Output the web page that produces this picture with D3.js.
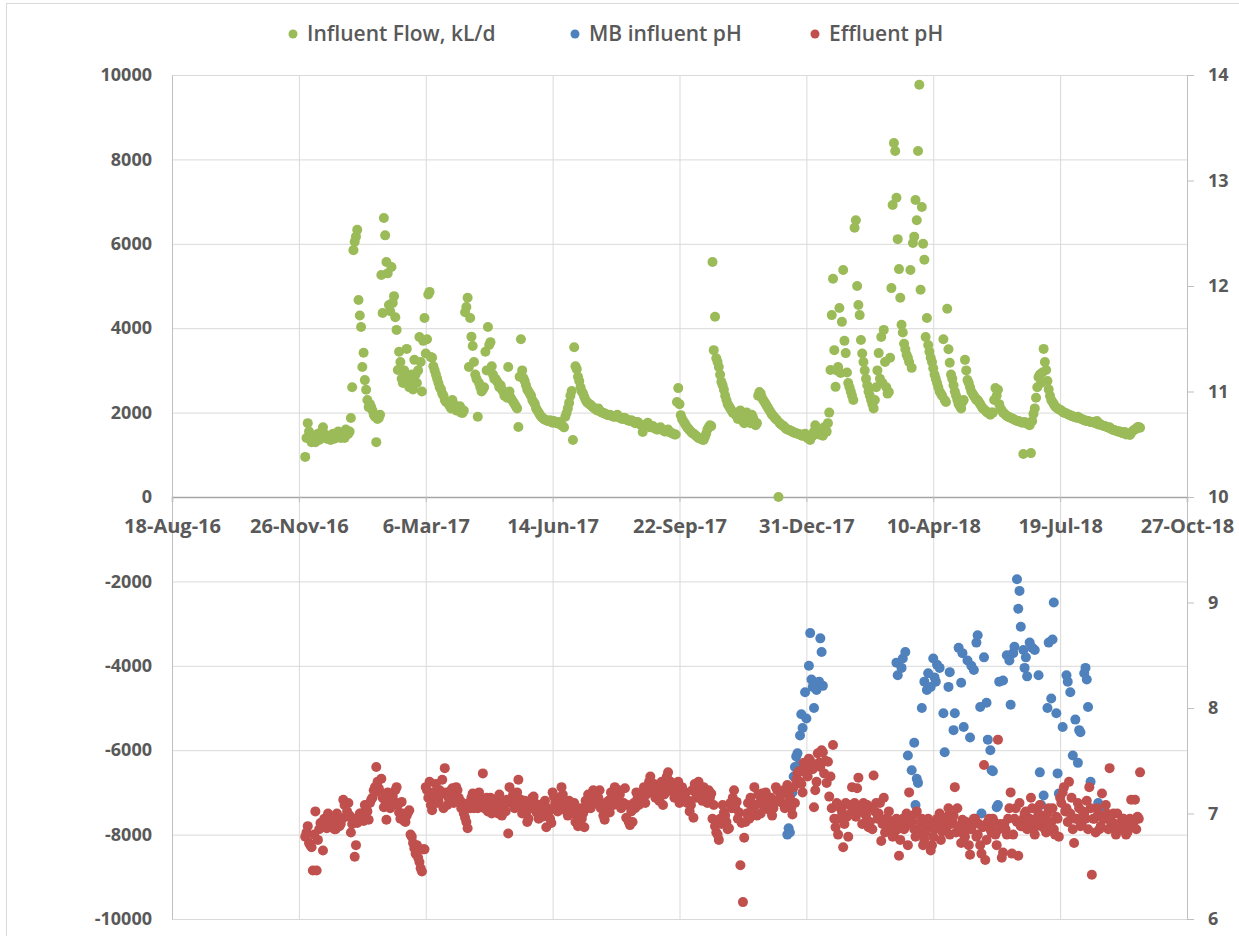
<!DOCTYPE html>
<html>
<head>
<meta charset="utf-8">
<title>Influent flow and pH</title>
<script src="https://cdnjs.cloudflare.com/ajax/libs/d3/7.8.5/d3.min.js"></script>
<style>
	body { margin: 0; background: #fff; }
	text { font-family: "Open Sans", Arial, sans-serif; fill: #595959; }
	.legend text { font-size: 21px; font-weight: 600; }
	.axis text { font-size: 18px; font-weight: 700; }
	.xaxis text { font-size: 20px; font-weight: 700; }
	.grid line { stroke: #d9d9d9; stroke-width: 1; }
	.grid path { display: none; }
</style>
</head>
<body>
<svg id="main" width="1239" height="936"></svg>
<script>

// axis labels
var xTickLabels = ["18-Aug-16", "26-Nov-16", "6-Mar-17", "14-Jun-17", "22-Sep-17", "31-Dec-17", "10-Apr-18", "19-Jul-18", "27-Oct-18"];
var leftTicks = [-10000, -8000, -6000, -4000, -2000, 0, 2000, 4000, 6000, 8000, 10000];
var rightTicks = [6, 7, 8, 9, 10, 11, 12, 13, 14];

var seriesNames = ["Influent Flow, kL/d", "MB influent pH", "Effluent pH"];
var seriesColors = ["#9bbb59", "#4f81bd", "#c0504d"];

// day numbers count from 18-Aug-16.
// daily records are split in two lists: odd days from day 105 (1-Dec-16) and even days from day 106
var oddFirstDay = 105;
var evenFirstDay = 106;
var sampleStep = 2;

var influentFlow = [
	950, 1750, 1450, 1350, 1300, 1500, 1400, 1650, 1450, 1400,
	1350, 1500, 1450, 1550, 1400, 1450, 1600, 1500, 1870, 5850,
	6170, 4670, 4030, 3420, 2540, 2130, 2130, 1950, 1300, 1870,
	5260, 6610, 5570, 4550, 5450, 4760, 3960, 3440, 2800, 3000,
	3510, 2600, 2900, 3250, 2700, 3790, 2500, 4240, 3740, 4860,
	3300, 3000, 2800, 2600, 2450, 2300, 2250, 2150, 2300, 2100,
	2050, 2150, 1990, 4380, 4720, 4240, 3580, 2900, 1900, 2600,
	2550, 3440, 4030, 3670, 2900, 2800, 2700, 2650, 2500, 2450,
	3080, 2350, 2250, 2150, 1660, 3740, 2820, 2650, 2500, 2400,
	2250, 2100, 2000, 1900, 1850, 1820, 1800, 1780, 1800, 1750,
	1780, 1700, 1650, 1990, 2230, 2510, 3550, 3030, 2750, 2500,
	2370, 2250, 2200, 2150, 2100, 2050, 2050, 2000, 1980, 1950,
	1950, 1920, 1900, 1950, 1880, 1850, 1870, 1820, 1800, 1800,
	1750, 1780, 1720, 1540, 1700, 1760, 1650, 1680, 1620, 1600,
	1650, 1580, 1550, 1600, 1530, 1500, 1480, 2580, 1940, 1800,
	1700, 1620, 1550, 1500, 1450, 1400, 1380, 1350, 1500, 1650,
	1680, 3480, 3290, 3080, 2730, 2540, 2300, 2150, 2050, 1990,
	2000, 1900, 1980, 1750, 2000, 1850, 1950, 1800, 1750, 2490,
	2350, 2250, 2150, 2050, 1950, 1880, 1820, 1750, 1700, 1650,
	1600, 1580, 1550, 1520, 1500, 1480, 1450, 1500, 1400, 1350,
	1450, 1700, 1500, 1550, 1450, 1600, 1750, 3010, 5170, 2610,
	3080, 2940, 5380, 3410, 2700, 2500, 2300, 6560, 4550, 3720,
	3200, 2800, 2500, 2300, 2100, 2600, 3410, 3790, 3960, 2600,
	2490, 4950, 8390, 7090, 5400, 4080, 3630, 3370, 3200, 3060,
	6170, 6560, 9770, 6870, 5620, 4240, 3440, 3200, 2900, 2700,
	2500, 2400, 2300, 4460, 3180, 2800, 2500, 2300, 2150, 2250,
	3250, 2770, 2600, 2450, 2350, 2300, 2200, 2100, 2050, 2000,
	1950, 2000, 2580, 2540, 2100, 2000, 1950, 1900, 1880, 1850,
	1820, 1800, 1780, 1020, 1750, 1720, 1040, 1970, 2350, 2840,
	2700, 3510, 3010, 2550, 2300, 2200, 2120, 2080, 2050, 2000,
	1980, 1950, 1920, 1900, 1880, 1870, 1850, 1820, 1800, 1790,
	1780, 1760, 1800, 1740, 1700, 1680, 1660, 1650, 1600, 1580,
	1560, 1550, 1520, 1540, 1500, 1470, 1560, 1600, 1650, 1640
];

var influentFlowEven = [
	1400, 1550, 1300, 1450, 1400, 1350, 1550, 1500, 1380, 1450,
	1420, 1380, 1500, 1450, 1520, 1400, 1480, 1550, 2600, 6050,
	6330, 4300, 3080, 2770, 2300, 2200, 2050, 1900, 1850, 1950,
	4360, 6200, 5300, 4400, 4600, 4260, 3010, 3200, 2700, 2900,
	2750, 2800, 2550, 2900, 3000, 3200, 3700, 3400, 4800, 3320,
	3100, 2900, 2700, 2550, 2400, 2250, 2200, 2100, 2200, 2050,
	2100, 2000, 2050, 4500, 3080, 3800, 3200, 2800, 2700, 2500,
	2600, 3000, 3600, 3100, 2800, 2750, 2600, 2550, 2400, 2350,
	2500, 2300, 2200, 2100, 2850, 3000, 2750, 2550, 2450, 2300,
	2200, 2050, 1950, 1880, 1830, 1800, 1820, 1760, 1780, 1760,
	1720, 1680, 1900, 2100, 2400, 1350, 3100, 2850, 2600, 2450,
	2300, 2220, 2180, 2120, 2080, 2100, 2020, 1990, 1960, 1940,
	1930, 1900, 1920, 1890, 1860, 1880, 1840, 1810, 1820, 1780,
	1770, 1740, 1700, 1680, 1720, 1700, 1660, 1640, 1600, 1630,
	1600, 1560, 1580, 1540, 1510, 1480, 2250, 2200, 1850, 1750,
	1650, 1580, 1520, 1480, 1420, 1390, 1360, 1420, 1600, 1700,
	5570, 4270, 3200, 2900, 2650, 2400, 2200, 2100, 2000, 1950,
	1850, 2050, 1800, 1900, 1950, 1750, 1880, 1700, 2400, 2450,
	2300, 2200, 2100, 2000, 1920, 1850, 0, 1720, 1680, 1620,
	1590, 1560, 1530, 1510, 1490, 1460, 1480, 1420, 1380, 1420,
	1550, 1600, 1480, 1500, 1650, 1550, 2000, 4310, 3480, 3000,
	4480, 4150, 3700, 2950, 2600, 2400, 6380, 5000, 4310, 3400,
	3000, 2650, 2400, 2200, 2300, 3000, 2800, 2700, 3200, 2450,
	3300, 6920, 8200, 6110, 4720, 3900, 3500, 3300, 5380, 6020,
	7040, 8200, 4910, 6000, 3790, 3600, 3300, 3050, 2800, 2600,
	2450, 3740, 2250, 3500, 2900, 2650, 2400, 2200, 2100, 2300,
	3000, 2700, 2500, 2400, 2300, 2250, 2150, 2080, 2020, 1980,
	2000, 2300, 2400, 2200, 2050, 1980, 1920, 1890, 1860, 1830,
	1800, 1790, 1760, 1780, 1740, 1700, 1800, 2100, 2600, 2900,
	2950, 3200, 2750, 2400, 2250, 2150, 2100, 2060, 2020, 1990,
	1960, 1940, 1910, 1890, 1900, 1860, 1830, 1810, 1800, 1780,
	1770, 1750, 1720, 1710, 1690, 1670, 1640, 1620, 1590, 1570,
	1550, 1530, 1510, 1480, 1490, 1520, 1580, 1620, 1660
];

var effluentPH = [
	6.78, 6.88, 6.70, 6.46, 7.02, 6.75, 6.91, 6.65, 6.95, 7.00,
	6.88, 6.92, 6.85, 6.95, 6.90, 7.13, 6.97, 7.10, 6.82, 6.95,
	6.70, 6.95, 7.00, 6.93, 7.05, 6.94, 7.13, 7.22, 7.44, 7.24,
	7.33, 7.06, 6.94, 7.18, 7.10, 7.11, 7.25, 7.01, 7.11, 6.93,
	6.98, 7.03, 6.78, 6.67, 6.70, 6.54, 6.45, 6.66, 7.22, 7.30,
	7.03, 7.15, 7.10, 7.22, 7.32, 7.43, 7.08, 7.15, 7.24, 7.18,
	7.22, 7.12, 7.10, 6.96, 6.86, 7.05, 7.19, 7.10, 7.05, 7.15,
	7.38, 7.10, 7.02, 7.15, 7.08, 7.13, 7.00, 7.10, 7.05, 7.02,
	6.81, 7.10, 7.19, 7.08, 7.32, 7.13, 7.05, 7.00, 6.95, 7.08,
	7.16, 7.02, 6.95, 7.05, 7.10, 6.87, 7.02, 6.91, 7.16, 7.05,
	7.10, 7.25, 7.08, 7.02, 7.12, 7.05, 7.10, 6.98, 6.92, 6.95,
	6.87, 7.05, 7.10, 7.15, 7.20, 7.12, 7.22, 7.10, 6.94, 7.05,
	7.01, 7.15, 7.25, 7.12, 7.18, 7.10, 7.24, 7.08, 6.89, 6.92,
	7.05, 7.15, 7.12, 7.18, 7.10, 7.20, 7.35, 7.22, 7.15, 7.27,
	7.20, 7.08, 7.25, 7.39, 7.30, 7.20, 7.25, 7.30, 7.18, 7.15,
	7.20, 7.12, 7.08, 6.96, 7.15, 7.30, 7.20, 7.25, 7.15, 7.22,
	7.19, 7.08, 6.82, 6.75, 6.90, 7.01, 6.92, 6.86, 7.05, 7.22,
	7.11, 7.01, 6.91, 6.77, 7.00, 6.95, 7.05, 7.25, 6.98, 7.10,
	7.19, 7.05, 7.12, 7.03, 6.98, 7.10, 7.22, 7.15, 7.10, 7.05,
	7.27, 7.15, 6.99, 7.10, 7.38, 7.30, 7.20, 7.44, 7.35, 7.50,
	7.42, 7.22, 7.57, 7.44, 7.58, 7.50, 7.49, 7.35, 7.65, 6.87,
	6.80, 7.05, 6.68, 7.10, 6.78, 7.00, 7.05, 6.97, 7.34, 7.02,
	7.10, 6.98, 6.87, 7.05, 7.36, 7.10, 7.00, 6.74, 7.15, 6.95,
	7.02, 6.88, 6.81, 6.95, 6.60, 6.90, 6.85, 7.00, 7.20, 6.92,
	6.85, 7.02, 6.80, 6.95, 6.75, 6.88, 6.91, 6.70, 6.85, 6.95,
	7.00, 6.83, 6.90, 6.97, 6.80, 6.92, 7.25, 7.05, 6.88, 6.94,
	6.78, 6.85, 6.61, 6.90, 6.95, 6.80, 6.70, 6.87, 6.56, 6.92,
	6.85, 6.95, 6.80, 7.70, 6.90, 6.63, 6.85, 6.95, 7.20, 6.80,
	7.05, 6.60, 6.88, 6.95, 7.02, 6.90, 7.15, 6.85, 6.95, 7.00,
	6.88, 6.95, 6.82, 7.05, 6.92, 6.85, 6.97, 6.78, 7.10, 7.25,
	7.05, 7.30, 7.15, 6.72, 6.95, 7.05, 6.90, 7.00, 7.12, 7.25,
	6.42, 6.95, 7.05, 6.85, 7.19, 6.95, 7.00, 7.43, 6.92, 6.88,
	7.00, 6.85, 6.95, 6.90, 6.82, 6.95, 6.88, 7.13, 6.97, 7.39
];

var effluentPHEven = [
	6.82, 6.72, 6.68, 6.80, 6.46, 6.85, 6.90, 6.95, 6.86, 6.98,
	6.92, 6.85, 7.00, 6.88, 6.95, 7.08, 7.02, 6.98, 6.90, 6.59,
	6.91, 7.00, 6.95, 7.08, 7.02, 7.10, 7.15, 7.25, 7.30, 7.20,
	7.15, 7.12, 7.20, 7.05, 7.16, 7.22, 7.08, 6.95, 7.00, 6.92,
	7.01, 6.80, 6.72, 6.62, 6.58, 6.48, 6.66, 7.25, 7.15, 7.08,
	7.20, 7.28, 7.12, 7.18, 7.05, 7.20, 7.15, 7.22, 7.10, 7.25,
	7.15, 7.05, 7.00, 6.92, 7.10, 7.15, 7.05, 7.12, 7.20, 7.08,
	7.05, 7.15, 7.10, 7.00, 7.12, 7.05, 7.18, 6.98, 7.08, 7.13,
	7.25, 7.15, 7.05, 7.20, 7.10, 7.00, 7.12, 6.92, 7.05, 7.15,
	7.10, 7.00, 7.08, 6.97, 7.12, 7.05, 6.95, 7.20, 7.10, 7.02,
	7.15, 7.18, 7.05, 6.98, 7.10, 7.02, 6.92, 6.88, 7.05, 7.00,
	7.12, 7.18, 7.05, 7.22, 7.10, 7.15, 7.05, 6.98, 7.08, 7.12,
	7.20, 7.08, 7.15, 7.22, 7.05, 7.10, 6.96, 6.92, 7.02, 7.10,
	7.20, 7.08, 7.16, 7.25, 7.18, 7.30, 7.22, 7.28, 7.20, 7.12,
	7.30, 7.18, 7.35, 7.22, 7.28, 7.15, 7.20, 7.10, 7.25, 7.18,
	7.10, 7.02, 7.22, 7.28, 7.18, 7.25, 7.12, 7.20, 7.10, 7.15,
	6.95, 6.88, 6.80, 6.95, 7.08, 6.98, 6.85, 7.10, 7.15, 7.05,
	6.95, 6.51, 6.16, 6.92, 7.10, 7.15, 7.02, 7.08, 7.18, 7.00,
	7.12, 7.20, 7.08, 7.15, 7.05, 7.25, 7.12, 7.18, 7.22, 7.08,
	7.20, 7.05, 7.25, 7.32, 7.40, 7.28, 7.48, 7.38, 7.52, 7.45,
	7.06, 7.30, 7.48, 7.60, 7.38, 7.29, 7.16, 7.05, 6.95, 7.10,
	6.95, 7.02, 6.90, 6.97, 7.08, 7.25, 7.10, 7.24, 7.05, 6.90,
	7.00, 7.08, 6.92, 6.85, 7.02, 6.95, 7.10, 6.90, 6.82, 6.95,
	6.85, 6.78, 6.92, 6.85, 6.75, 6.95, 6.88, 6.70, 6.92, 6.98,
	6.78, 6.85, 6.92, 6.70, 6.82, 6.95, 6.65, 6.78, 6.88, 6.92,
	6.75, 6.95, 6.85, 7.05, 6.90, 6.98, 6.82, 6.88, 6.72, 6.80,
	6.92, 6.70, 6.85, 6.95, 6.78, 6.90, 6.62, 7.46, 6.75, 6.95,
	6.82, 6.92, 6.70, 6.85, 6.58, 6.90, 6.80, 7.05, 6.62, 6.95,
	6.92, 7.10, 6.88, 7.00, 6.85, 6.95, 7.05, 6.80, 6.92, 7.08,
	6.95, 6.85, 7.00, 6.90, 7.05, 6.80, 6.95, 7.15, 7.20, 7.02,
	6.92, 7.00, 6.85, 6.95, 7.10, 6.88, 7.02, 6.95, 6.85, 7.05,
	6.95, 6.82, 7.00, 6.88, 6.95, 7.08, 6.85, 6.92, 7.00, 6.80,
	6.90, 6.85, 6.95, 6.80, 6.88, 7.13, 6.92, 6.85, 6.95
];

// MB influent pH [day, pH]
var mbInfluentPH = [
	[485, 6.80], [486, 6.86], [487, 6.82], [488, 7.19], [489, 7.20], [490, 7.35], [491, 7.44],
	[492, 7.54], [493, 7.57], [494, 7.46], [495, 7.74], [496, 7.94], [497, 7.81], [499, 8.15],
	[500, 7.90], [502, 8.40], [503, 8.71], [504, 8.27], [505, 8.20], [506, 8.00], [507, 8.22],
	[508, 8.17], [510, 8.25], [511, 8.66], [512, 8.53], [513, 8.21],
	[571, 8.43], [572, 8.31], [575, 8.38], [576, 8.47], [578, 8.53], [580, 7.55], [583, 7.41],
	[585, 7.67], [586, 7.08], [587, 7.33], [588, 7.29], [591, 8.00], [593, 8.25], [595, 8.17],
	[596, 8.33], [598, 8.20], [600, 8.47], [601, 8.29], [602, 8.25], [603, 8.41], [605, 8.38],
	[608, 7.95], [609, 7.58], [612, 8.20], [613, 8.34], [616, 7.79], [617, 7.95], [620, 8.57],
	[622, 8.24], [623, 8.52], [624, 7.82], [627, 8.45], [629, 7.72], [630, 8.40], [632, 8.36],
	[634, 8.62], [635, 8.69], [637, 8.01], [638, 7.00], [640, 8.48], [642, 8.05], [643, 7.70],
	[645, 7.60], [646, 7.41], [647, 7.40], [650, 7.06], [651, 7.08], [652, 8.25], [655, 8.26],
	[658, 8.50], [660, 8.45], [661, 8.03], [663, 8.52], [664, 8.58], [666, 9.22], [667, 8.94],
	[668, 9.11], [669, 8.77], [671, 8.55], [672, 8.38], [673, 8.48], [674, 8.30], [676, 8.62],
	[678, 8.57], [680, 8.55], [683, 8.31], [684, 7.39], [685, 7.08], [687, 7.17], [690, 8.00],
	[691, 8.62], [693, 8.09], [694, 8.65], [695, 9.00], [697, 7.95], [698, 7.38], [699, 7.19],
	[702, 7.82], [705, 8.31], [706, 8.25], [708, 8.15], [710, 7.55], [712, 7.89], [714, 7.48],
	[715, 7.79], [716, 7.77], [719, 8.33], [720, 8.38], [721, 8.27], [722, 8.01], [724, 7.30],
	[730, 7.10], [734, 7.06]
];

var svg = d3.select("#main");
var parseLabel = d3.timeParse("%d-%b-%y");
var xTickDates = xTickLabels.map(parseLabel);
var dayZero = xTickDates[0];

function dayDate(d) { return d3.timeDay.offset(dayZero, d); }

// plot area edges
var plotLeft = 172, plotRight = 1187, plotTop = 75, plotBottom = 919;

var x = d3.scaleTime().domain([dayZero, xTickDates[xTickDates.length - 1]]).range([plotLeft, plotRight]);
var yFlow = d3.scaleLinear().domain([leftTicks[0], leftTicks[leftTicks.length - 1]]).range([plotBottom, plotTop]);
var yPH = d3.scaleLinear().domain([rightTicks[0], rightTicks[rightTicks.length - 1]]).range([plotBottom, plotTop]);

// outer chart border
svg.append("rect")
	.attr("x", 6.5).attr("y", 3.5)
	.attr("width", 1260).attr("height", 960)
	.attr("fill", "none").attr("stroke", "#d9d9d9");

// gridlines
svg.append("g").attr("class", "grid")
	.attr("transform", "translate(" + plotLeft + ",0)")
	.call(d3.axisLeft(yFlow).tickValues(leftTicks).tickSize(-(plotRight - plotLeft)).tickFormat(""));

svg.append("g").attr("class", "grid")
	.attr("transform", "translate(0," + plotBottom + ")")
	.call(d3.axisBottom(x).tickValues(xTickDates).tickSize(-(plotBottom - plotTop)).tickFormat(""));

// left axis
var leftAxis = svg.append("g").attr("class", "axis")
	.attr("transform", "translate(" + plotLeft + ",0)")
	.call(d3.axisLeft(yFlow).tickValues(leftTicks).tickSize(0).tickPadding(20).tickFormat(String));
leftAxis.select(".domain").attr("stroke", "#bfbfbf");

// right axis
var rightAxis = svg.append("g").attr("class", "axis")
	.attr("transform", "translate(" + plotRight + ",0)")
	.call(d3.axisRight(yPH).tickValues(rightTicks).tickSize(7).tickPadding(14));
rightAxis.select(".domain").attr("stroke", "#bfbfbf");
rightAxis.selectAll(".tick line").attr("stroke", "#bfbfbf");

// date axis crosses at flow = 0
var xAxis = svg.append("g").attr("class", "xaxis")
	.attr("transform", "translate(0," + yFlow(0) + ")")
	.call(d3.axisBottom(x).tickValues(xTickDates).tickSize(5).tickPadding(17)
		.tickFormat(function(d, i) { return xTickLabels[i]; }));
xAxis.select(".domain").attr("stroke", "#a6a6a6").attr("stroke-width", 1.5);
xAxis.selectAll(".tick line").attr("stroke", "#bfbfbf");

// series
function daily(values, firstDay) {
	return values.map(function(v, i) { return [firstDay + i * sampleStep, v]; });
}

var flowPoints = daily(influentFlow, oddFirstDay).concat(daily(influentFlowEven, evenFirstDay));
var effluentPoints = daily(effluentPH, oddFirstDay).concat(daily(effluentPHEven, evenFirstDay));

function drawPoints(points, yScale, color) {
	svg.append("g").selectAll("circle")
		.data(points)
		.enter().append("circle")
		.attr("cx", function(d) { return x(dayDate(d[0])); })
		.attr("cy", function(d) { return yScale(d[1]); })
		.attr("r", 5)
		.attr("fill", color);
}

drawPoints(flowPoints, yFlow, seriesColors[0]);
drawPoints(mbInfluentPH, yPH, seriesColors[1]);
drawPoints(effluentPoints, yPH, seriesColors[2]);

// legend
var legendX = [293, 575, 815];
var legend = svg.append("g").attr("class", "legend");
seriesNames.forEach(function(name, i) {
	legend.append("circle")
		.attr("cx", legendX[i]).attr("cy", 34).attr("r", 4.5)
		.attr("fill", seriesColors[i]);
	legend.append("text")
		.attr("x", legendX[i] + 14).attr("y", 41)
		.text(name);
});

</script>
</body>
</html>
